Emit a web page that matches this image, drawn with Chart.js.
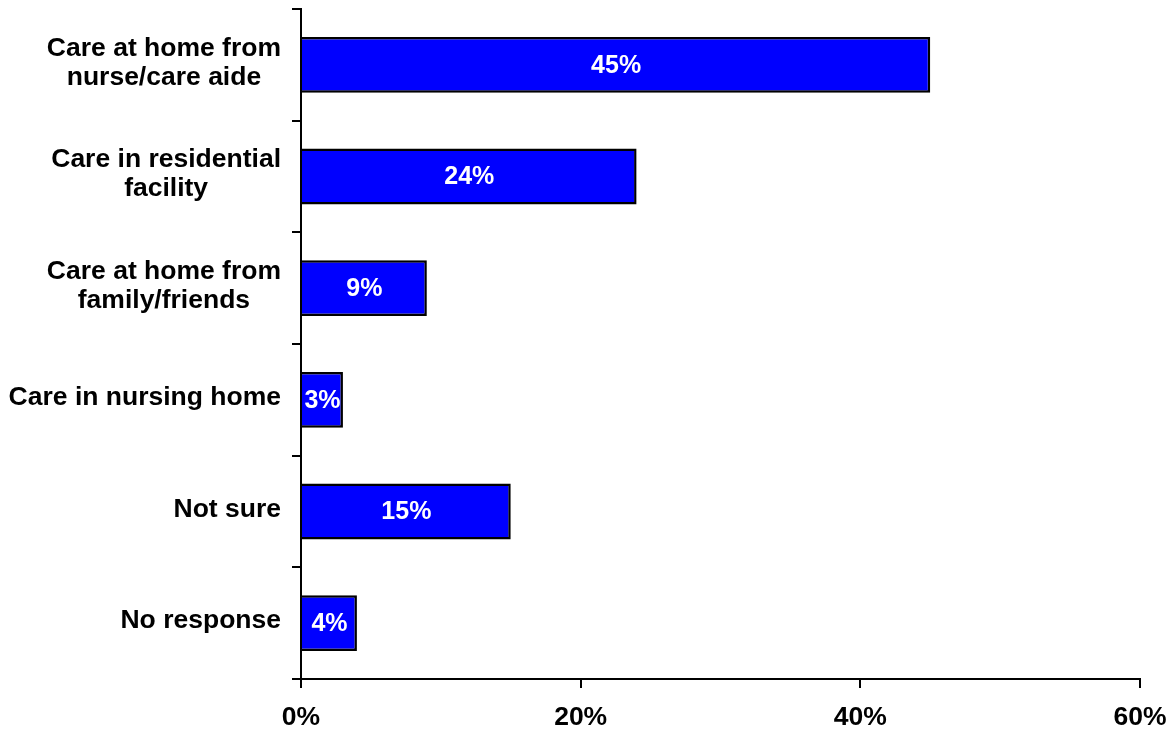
<!DOCTYPE html>
<html>
<head>
<meta charset="utf-8">
<script src="https://cdn.jsdelivr.net/npm/chart.js@4"></script>
<style>
  html, body { margin: 0; padding: 0; background: #fff; }
  #wrap { width: 1176px; height: 736px; }
</style>
</head>
<body>
<div id="wrap"><canvas id="c" width="1176" height="736"></canvas></div>
<script>
const categories = [
  ["Care at home from", "nurse/care aide"],
  ["Care in residential", "facility"],
  ["Care at home from", "family/friends"],
  "Care in nursing home",
  "Not sure",
  "No response"
];
const values = [45, 24, 9, 3, 15, 4];
const xTickValues = [0, 20, 40, 60];
const xTickLabels = ["0%", "20%", "40%", "60%"];
const valueLabels = ["45%", "24%", "9%", "3%", "15%", "4%"];

const FONT = '"Liberation Sans", Arial, sans-serif';

const yLabelPlugin = {
  id: 'yLabels',
  afterDraw(chart) {
    const ys = chart.scales.y;
    const ctx = chart.ctx;
    ctx.save();
    ctx.font = 'bold 26.5px ' + FONT;
    ctx.fillStyle = '#000';
    ctx.textAlign = 'center';
    ctx.textBaseline = 'middle';
    const lh = 29;
    const rightEdge = 281;
    categories.forEach((lab, i) => {
      const lines = Array.isArray(lab) ? lab : [lab];
      const w = Math.max(...lines.map(l => ctx.measureText(l).width));
      const cx = rightEdge - w / 2;
      const cy = ys.getPixelForValue(i) - 2;
      lines.forEach((l, j) => {
        ctx.fillText(l, cx, cy + (j - (lines.length - 1) / 2) * lh);
      });
    });
    ctx.restore();
  }
};

const valueLabelPlugin = {
  id: 'valueLabels',
  afterDatasetsDraw(chart) {
    const ctx = chart.ctx;
    const meta = chart.getDatasetMeta(0);
    ctx.save();
    ctx.font = 'bold 25px ' + FONT;
    ctx.fillStyle = '#fff';
    ctx.textAlign = 'center';
    ctx.textBaseline = 'middle';
    meta.data.forEach((bar, i) => {
      const cx = (bar.base + bar.x) / 2;
      ctx.fillText(valueLabels[i], cx, bar.y + 1);
    });
    ctx.restore();
  }
};

new Chart(document.getElementById('c'), {
  type: 'bar',
  data: {
    labels: categories,
    datasets: [{
      data: values,
      backgroundColor: '#0000FF',
      borderColor: '#000',
      borderWidth: 2.5,
      barPercentage: 0.5,
      categoryPercentage: 1.0
    }]
  },
  options: {
    indexAxis: 'y',
    responsive: false,
    animation: false,
    devicePixelRatio: 1,
    layout: { padding: { top: 9, right: 36, left: 0, bottom: 0 } },
    plugins: { legend: { display: false }, tooltip: { enabled: false } },
    scales: {
      x: {
        min: 0, max: 60,
        afterBuildTicks(scale) { scale.ticks = xTickValues.map(v => ({ value: v })); },
        afterFit(scale) { scale.height = 57; scale.paddingLeft = 0; scale.paddingRight = 0; },
        ticks: {
          callback: (v, i) => xTickLabels[i],
          color: '#000',
          font: { family: FONT, size: 26.5, weight: 'bold' },
          padding: 14,
          maxRotation: 0
        },
        grid: { drawOnChartArea: false, drawTicks: true, tickLength: 9, color: '#000', lineWidth: 2 },
        border: { display: true, color: '#000', width: 2 }
      },
      y: {
        afterFit(scale) { scale.width = 301; scale.paddingTop = 0; scale.paddingBottom = 0; },
        ticks: { display: false },
        grid: { drawOnChartArea: false, drawTicks: true, tickLength: 9, color: '#000', lineWidth: 2, offset: true },
        border: { display: true, color: '#000', width: 2 }
      }
    }
  },
  plugins: [yLabelPlugin, valueLabelPlugin]
});
</script>
</body>
</html>
